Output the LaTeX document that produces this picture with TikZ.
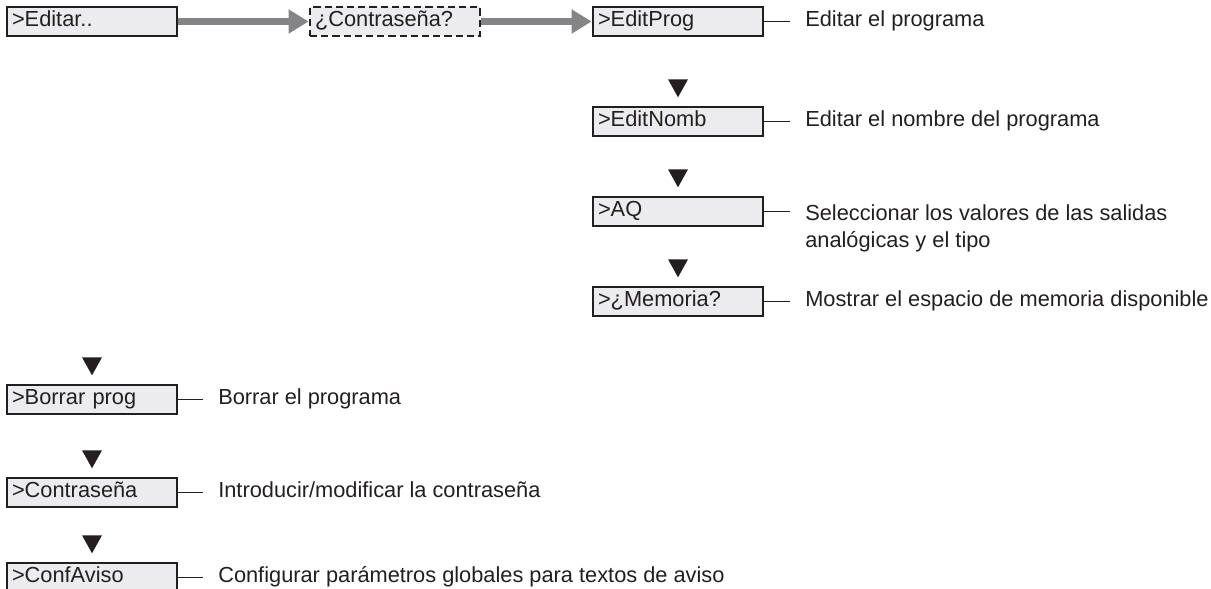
\documentclass[tikz,border=0pt]{standalone}
\usepackage{fontspec}
\setmainfont{Liberation Sans}
\usepackage{tikz}
\usetikzlibrary{arrows.meta,calc}
\definecolor{ink}{HTML}{231F20}
\definecolor{panel}{HTML}{ECECEE}
\definecolor{flow}{HTML}{858587}

\begin{document}
\begin{tikzpicture}[>=Stealth,font=\fontsize{15.5}{19.8}\selectfont,
  box/.style={draw=ink,fill=panel,line width=1pt,minimum height=7.25mm,text width=40mm,inner xsep=1.25mm,inner ysep=0pt,align=left,text height=.72em,text depth=0pt,text=ink},
  askbox/.style={box,dash pattern=on 1.8mm off 1mm},
  desc/.style={anchor=west,inner xsep=3.75mm,inner ysep=0pt,align=left,text height=.72em,text depth=0pt,text=ink},
  flowarrow/.style={draw=flow,line width=5.2pt,-{Triangle[length=5mm,width=5.75mm]},shorten >=.5pt},
  tick/.style={draw=ink,line width=1.4pt}]
\useasboundingbox (0,0) rectangle (30.275,-14.725);
\node[box] (editar) at (2.3,-.5375) {>Editar..};
\node[askbox] (pwask) at (9.875,-.5375) {¿Contraseña?};
\node[box] (editprog) at (16.95,-.5375) {>EditProg};
\node[box] (editnomb) at (16.95,-3.0375) {>EditNomb};
\node[box] (aq) at (16.95,-5.2875) {>AQ};
\node[box] (memoria) at (16.95,-7.5375) {>¿Memoria?};
\node[box] (borrar) at (2.3,-9.9875) {>Borrar prog};
\node[box] (passwd) at (2.3,-12.3125) {>Contraseña};
\node[box] (confaviso) at (2.3,-14.4375) {>ConfAviso};
\draw[flowarrow] (editar) -- (pwask);
\draw[flowarrow] (pwask) -- (editprog);
\foreach \b in {editnomb,aq,memoria,borrar,passwd,confaviso}
  \fill[ink] ($(\b.north)+(-.25,.675)$) -- ($(\b.north)+(.25,.675)$) -- ($(\b.north)+(0,.225)$) -- cycle;
\node[desc] (editprogd) at (19.75,-.5375) {Editar el programa};
\node[desc] (editnombd) at (19.75,-3.0375) {Editar el nombre del programa};
\node[desc,anchor=north west,text height={},text depth={}] (aqd) at (19.75,-5.1) {Seleccionar los valores de las salidas\\analógicas y el tipo};
\node[desc] (memoriad) at (19.75,-7.5375) {Mostrar el espacio de memoria disponible};
\node[desc] (borrard) at (5.075,-9.9875) {Borrar el programa};
\node[desc] (passwdd) at (5.075,-12.3125) {Introducir/modificar la contraseña};
\node[desc] (confavisod) at (5.075,-14.4375) {Configurar parámetros globales para textos de aviso};
\draw[tick] (editprog) -- (editprogd);
\draw[tick] (editnomb) -- (editnombd);
\draw[tick] (aq.east) -- (aq.east -| aqd.west);
\draw[tick] (memoria) -- (memoriad);
\draw[tick] (borrar) -- (borrard);
\draw[tick] (passwd) -- (passwdd);
\draw[tick] (confaviso) -- (confavisod);
\end{tikzpicture}
\end{document}
